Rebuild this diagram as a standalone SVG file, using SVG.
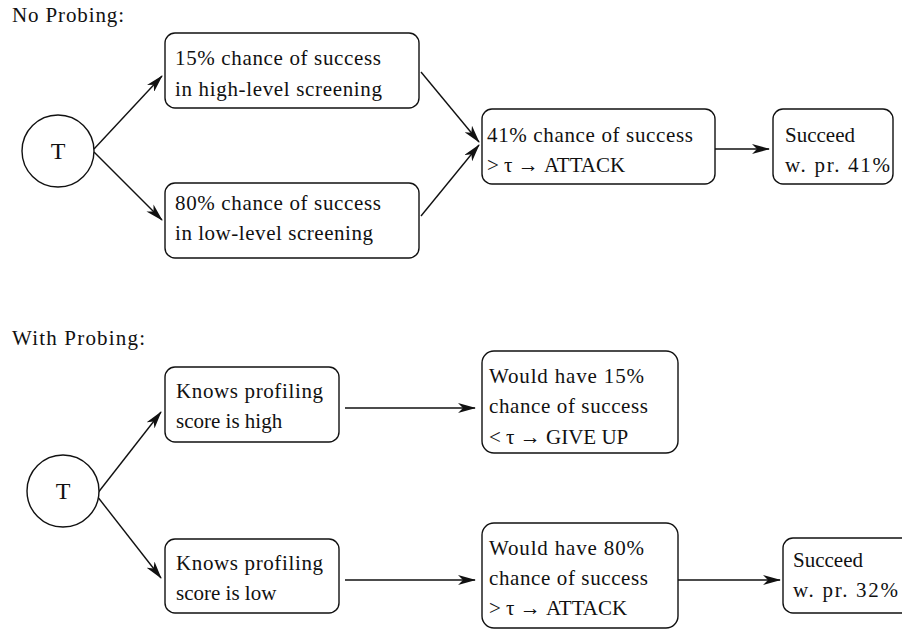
<svg xmlns="http://www.w3.org/2000/svg" width="902" height="630" viewBox="0 0 902 630">
<style>
.box{fill:#fff;stroke:#111;stroke-width:1.4}
.c{fill:#fff;stroke:#111;stroke-width:1.4}
.e{fill:none;stroke:#111;stroke-width:1.4;marker-end:url(#ah)}
</style>
<defs>
<marker id="ah" viewBox="0 0 18 10" markerWidth="18" markerHeight="10" refX="17" refY="5" orient="auto" markerUnits="userSpaceOnUse">
<path d="M0,0 L18,5 L0,10 L5,5 z" fill="#111"/>
</marker>
</defs>
<rect width="902" height="630" fill="#fff"/>
<g font-family="Liberation Serif, Times New Roman, DejaVu Serif, serif" font-size="21" fill="#111">
<text x="12" y="22" textLength="112">No Probing:</text>
<text x="12" y="345" textLength="133">With Probing:</text>
<g id="connectors">
<line class="e" x1="94" y1="149" x2="162" y2="76"/>
<line class="e" x1="94" y1="152" x2="162" y2="220"/>
<line class="e" x1="421" y1="72" x2="479" y2="142"/>
<line class="e" x1="421" y1="216" x2="479" y2="145"/>
<line class="e" x1="715" y1="149" x2="769" y2="149"/>
<line class="e" x1="97" y1="494" x2="161" y2="412"/>
<line class="e" x1="97" y1="496" x2="161" y2="578"/>
<line class="e" x1="345" y1="408" x2="475" y2="408"/>
<line class="e" x1="345" y1="580" x2="475" y2="580"/>
<line class="e" x1="678" y1="580" x2="780" y2="580"/>
</g>
<g id="t1"><circle class="c" cx="58" cy="151" r="36"/><text x="58" y="159" text-anchor="middle" font-size="24">T</text></g>
<g id="n_high"><rect class="box" x="165" y="33" width="254" height="75" rx="10"/><text x="175" y="65" textLength="206">15% chance of success</text><text x="175" y="96" textLength="207">in high-level screening</text></g>
<g id="n_low"><rect class="box" x="165" y="183" width="254" height="75" rx="10"/><text x="175" y="210" textLength="206">80% chance of success</text><text x="175" y="240" textLength="198">in low-level screening</text></g>
<g id="n_41"><rect class="box" x="482" y="109" width="233" height="75" rx="10"/><text x="487" y="142" textLength="206">41% chance of success</text><text x="487" y="172">&gt; τ → ATTACK</text></g>
<g id="n_s41"><rect class="box" x="773" y="109" width="120" height="75" rx="10"/><text x="785" y="142">Succeed</text><text x="785" y="172" textLength="105">w.  pr.  41%</text></g>
<g id="t2"><circle class="c" cx="63" cy="491" r="36"/><text x="63" y="499" text-anchor="middle" font-size="24">T</text></g>
<g id="n_kh"><rect class="box" x="165" y="367" width="174" height="75" rx="10"/><text x="176" y="398" textLength="147">Knows profiling</text><text x="176" y="428">score is high</text></g>
<g id="n_kl"><rect class="box" x="165" y="539" width="174" height="74" rx="10"/><text x="176" y="570" textLength="147">Knows profiling</text><text x="176" y="600">score is low</text></g>
<g id="n_15"><rect class="box" x="482" y="351" width="196" height="102" rx="12"/><text x="489" y="383" textLength="155">Would have 15%</text><text x="489" y="413" textLength="159">chance of success</text><text x="489" y="444">&lt; τ → GIVE UP</text></g>
<g id="n_80"><rect class="box" x="482" y="523" width="196" height="105" rx="12"/><text x="489" y="555" textLength="155">Would have 80%</text><text x="489" y="585" textLength="159">chance of success</text><text x="489" y="615">&gt; τ → ATTACK</text></g>
<g id="n_s32"><rect class="box" x="783" y="538" width="130" height="75" rx="10"/><text x="793" y="567">Succeed</text><text x="793" y="597" textLength="105">w.  pr.  32%</text></g>
</g>
</svg>
